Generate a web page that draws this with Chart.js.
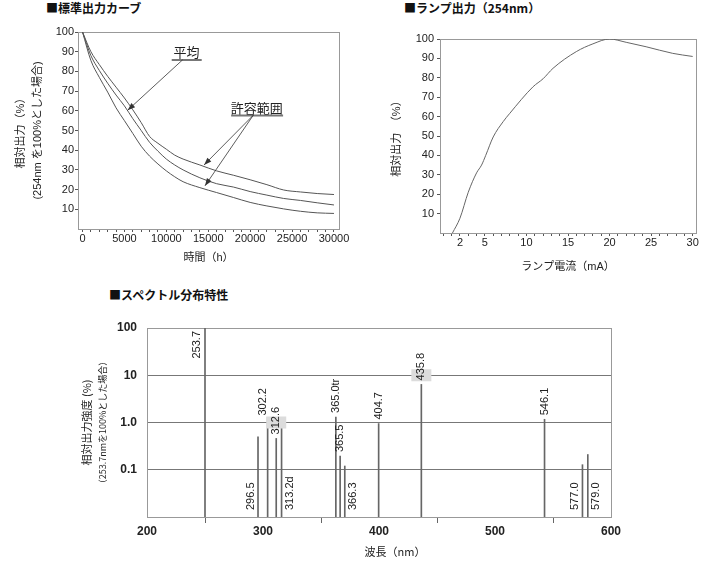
<!DOCTYPE html>
<html lang="ja">
<head>
<meta charset="utf-8">
<script src="https://cdn.jsdelivr.net/npm/chart.js@4.4.1/dist/chart.umd.min.js"></script>
<style>
  body { margin: 0; width: 709px; height: 565px; background: #fff; position: relative; overflow: hidden; }
  .box { position: absolute; }
  .ttl { position: absolute; font: bold 12px 'Noto Sans CJK JP', sans-serif; line-height: 16px; color: #111; white-space: nowrap; }
</style>
</head>
<body>
<div class="ttl" style="left:46px; top:0px;">■標準出力カーブ</div>
<div class="ttl" style="left:404px; top:0px;">■ランプ出力（254nm）</div>
<div class="ttl" style="left:109px; top:287px;">■スペクトル分布特性</div>

<div class="box" style="left:0; top:0; width:350px; height:275px;"><canvas id="c1"></canvas></div>
<div class="box" style="left:355px; top:0; width:354px; height:280px;"><canvas id="c2"></canvas></div>
<div class="box" style="left:60px; top:280px; width:649px; height:285px;"><canvas id="c3"></canvas></div>

<script>
// 標準出力カーブ
const hours = [0, 1000, 2000, 3000, 4000, 5000, 6000, 7000, 8000, 9000, 10000, 11000, 12000,
               14000, 16000, 18000, 20000, 22000, 24000, 26000, 28000, 30000];
const upperPct = [100, 90, 83.5, 77.5, 72, 66.5, 60.5, 54, 47, 43.5, 40.5, 37.5, 35.5,
                  32.5, 29.5, 27.3, 25, 22.5, 19.8, 18.8, 18, 17.5];
const meanPct = [100, 88, 80.5, 74, 68, 62.5, 56, 50, 44, 39.5, 35.5, 32.5, 30,
                 26, 23, 21.3, 19, 17.2, 15.5, 14.5, 13.3, 12.2];
const lowerPct = [100, 85.5, 77, 69.5, 61.5, 55, 48.5, 42, 37, 33, 29.5, 26.5, 24,
                  21, 18.5, 16, 13.5, 11.7, 10.2, 9, 8.2, 7.9];
const hourTicks = [];
for (let h = 0; h <= 30000; h += 1000) hourTicks.push(h);
const pctTicks = [10, 20, 30, 40, 50, 60, 70, 80, 90, 100];

// ランプ出力
const currentMA = [1.1, 2, 3, 4, 4.6, 5.1, 6, 7.2, 8, 10.8, 12, 13.2, 16, 18, 20, 22, 24.4, 27.6, 30];
const lampPct = [0, 7.6, 21, 31, 35, 40, 49.5, 57.4, 61.7, 75.4, 79.5, 84.9, 93.5, 97.5, 100, 98.3, 96, 92.6, 91];
const currentTicks = [];
for (let i = 0; i <= 30; i++) currentTicks.push(i);
const currentLabels = [2, 5, 10, 15, 20, 25, 30];

// スペクトル分布特性
const waveX = [250, 295.7, 304, 311.4, 316, 362.8, 366.5, 370.5, 399.7, 436.5, 542.7, 575.4, 580];
const intensity = [100, 0.5, 1.27, 0.46, 1.08, 1.31, 0.195, 0.12, 0.95, 6.4, 1.17, 0.128, 0.21];
const lineLabels = ['253.7', '296.5', '302.2', '312.6', '313.2d', '365.0tr', '365.5', '366.3',
                    '404.7', '435.8', '546.1', '577.0', '579.0'];
const waveTicks = [200, 300, 400, 500, 600];
const logTicks = [0.01, 0.1, 1, 10, 100];
const logLabels = ['', '0.1', '1.0', '10', '100'];

// where each wavelength tag sits relative to its line
const labelSide = ['topLeft', 'bottomLeft', 'aboveLeft', 'above', 'bottomRight', 'above', 'above',
                   'bottomRight', 'above', 'above', 'above', 'bottomLeft', 'bottomRight'];

Chart.defaults.font.family = "'Liberation Sans', 'Noto Sans CJK JP', sans-serif";
Chart.defaults.font.size = 11;
Chart.defaults.color = '#222';
Chart.defaults.animation = false;

function pts(xs, ys) {
    return xs.map((x, i) => ({ x: x, y: ys[i] }));
}

const frame = {
    id: 'frame',
    beforeDatasetsDraw(chart, args, opts) {
        const { ctx, chartArea: a } = chart;
        ctx.save();
        ctx.strokeStyle = opts.color || '#999';
        ctx.lineWidth = 1;
        ctx.strokeRect(Math.round(a.left) + 0.5, Math.round(a.top) + 0.5,
                       Math.round(a.width), Math.round(a.height));
        ctx.restore();
    }
};

function arrow(ctx, x1, y1, x2, y2) {
    const ang = Math.atan2(y2 - y1, x2 - x1);
    ctx.beginPath();
    ctx.moveTo(x1, y1);
    ctx.lineTo(x2, y2);
    ctx.stroke();
    ctx.beginPath();
    ctx.moveTo(x2, y2);
    ctx.lineTo(x2 - 8 * Math.cos(ang - 0.35), y2 - 8 * Math.sin(ang - 0.35));
    ctx.lineTo(x2 - 8 * Math.cos(ang + 0.35), y2 - 8 * Math.sin(ang + 0.35));
    ctx.closePath();
    ctx.fill();
}

// callouts for chart 1, in data units
const callouts = [
    { text: '平均', x: 12400, y: 86.3, from: 10640, to: 14220,
      arrows: [[11950, 85.9, 5390, 60.3]] },
    { text: '許容範囲', x: 20800, y: 58.1, from: 17730, to: 23930,
      arrows: [[20380, 57.8, 14500, 32.5], [20380, 57.8, 14610, 21.9]] }
];

const calloutPlugin = {
    id: 'callouts',
    afterDatasetsDraw(chart) {
        const { ctx, scales: { x, y } } = chart;
        ctx.save();
        callouts.forEach(c => {
            const ly = y.getPixelForValue(c.y);
            ctx.fillStyle = '#222';
            ctx.font = "13px 'Noto Sans CJK JP', sans-serif";
            ctx.textAlign = 'center';
            ctx.textBaseline = 'bottom';
            ctx.fillText(c.text, x.getPixelForValue(c.x), ly);
            ctx.strokeStyle = '#777';
            ctx.lineWidth = 2;
            ctx.beginPath();
            ctx.moveTo(x.getPixelForValue(c.from), ly + 1);
            ctx.lineTo(x.getPixelForValue(c.to), ly + 1);
            ctx.stroke();
            ctx.strokeStyle = '#333';
            ctx.fillStyle = '#333';
            ctx.lineWidth = 0.8;
            c.arrows.forEach(a => arrow(ctx, x.getPixelForValue(a[0]), y.getPixelForValue(a[1]),
                                        x.getPixelForValue(a[2]), y.getPixelForValue(a[3])));
        });
        ctx.restore();
    }
};

new Chart(document.getElementById('c1'), {
    type: 'line',
    data: {
        datasets: [
            { label: '許容範囲上限', data: pts(hours, upperPct) },
            { label: '平均', data: pts(hours, meanPct) },
            { label: '許容範囲下限', data: pts(hours, lowerPct) }
        ]
    },
    options: {
        responsive: true,
        maintainAspectRatio: false,
        layout: { padding: { top: 32, right: 11, left: 0, bottom: 0 } },
        plugins: { legend: { display: false }, tooltip: { enabled: false } },
        elements: {
            point: { radius: 0 },
            line: { borderWidth: 1, borderColor: '#555', cubicInterpolationMode: 'monotone' }
        },
        scales: {
            x: {
                type: 'linear', min: -540, max: 30600,
                afterFit: s => { s.height = 46; },
                afterBuildTicks: s => { s.ticks = hourTicks.map(v => ({ value: v })); },
                ticks: { autoSkip: false, maxRotation: 0, padding: 0,
                         callback: v => (v % 5000 === 0 ? String(v) : '') },
                grid: { drawOnChartArea: false, tickLength: 3, color: '#555' },
                border: { color: '#555' },
                title: { display: true, text: '時間（h）', padding: { top: 0, bottom: 10 },
                         font: { size: 11, lineHeight: 1.3 } }
            },
            y: {
                min: 0, max: 100,
                afterFit: s => { s.width = 78; },
                afterBuildTicks: s => { s.ticks = pctTicks.map(v => ({ value: v })); },
                ticks: { padding: 1 },
                grid: { drawOnChartArea: false, tickLength: 3, color: '#555' },
                border: { color: '#555' },
                title: { display: true, text: ['相対出力（%）', '(254nm を100%とした場合)'],
                         padding: { top: 12.5 }, font: { size: 11, lineHeight: 1.55 } }
            }
        }
    },
    plugins: [frame, calloutPlugin]
});

new Chart(document.getElementById('c2'), {
    type: 'line',
    data: { datasets: [{ label: 'ランプ出力', data: pts(currentMA, lampPct) }] },
    options: {
        responsive: true,
        maintainAspectRatio: false,
        layout: { padding: { top: 39, right: 13, left: 0, bottom: 0 } },
        plugins: { legend: { display: false }, tooltip: { enabled: false } },
        elements: {
            point: { radius: 0 },
            line: { borderWidth: 1, borderColor: '#666', cubicInterpolationMode: 'monotone' }
        },
        scales: {
            x: {
                type: 'linear', min: -0.4, max: 30.4,
                afterFit: s => { s.height = 47; },
                afterBuildTicks: s => { s.ticks = currentTicks.map(v => ({ value: v })); },
                ticks: { autoSkip: false, maxRotation: 0, padding: 0,
                         callback: v => (currentLabels.includes(v) ? String(v) : '') },
                grid: { drawOnChartArea: false, tickLength: 3, color: '#555' },
                border: { color: '#555' },
                title: { display: true, text: 'ランプ電流（mA）', padding: { top: 0, bottom: 6 },
                         font: { size: 11, lineHeight: 1.3 } }
            },
            y: {
                min: 0, max: 100,
                afterFit: s => { s.width = 85; },
                afterBuildTicks: s => { s.ticks = pctTicks.map(v => ({ value: v })); },
                ticks: { padding: 3 },
                grid: { drawOnChartArea: false, tickLength: 3, color: '#555' },
                border: { color: '#555' },
                title: { display: true, text: '相対出力　（%）', padding: { top: 33 },
                         font: { size: 11, lineHeight: 1.55 } }
            }
        }
    },
    plugins: [frame]
});

const specTags = {
    id: 'specTags',
    afterDatasetsDraw(chart) {
        const { ctx, chartArea: a, scales: { x, y } } = chart;
        const grids = [0.1, 1, 10].map(v => y.getPixelForValue(v));
        ctx.save();
        ctx.font = "11px 'Liberation Sans', sans-serif";
        ctx.textBaseline = 'middle';
        waveX.forEach((w, i) => {
            const px = x.getPixelForValue(w);
            const top = y.getPixelForValue(intensity[i]);
            const tw = ctx.measureText(lineLabels[i]).width;
            const side = labelSide[i];
            let ax = px, ay = top - 4, align = 'left';
            if (side === 'topLeft') { ax = px - 8; ay = a.top + 3; align = 'right'; }
            else if (side === 'bottomLeft') { ax = px - 7; ay = a.bottom - 7; }
            else if (side === 'bottomRight') { ax = px + 8; ay = a.bottom - 7; }
            else if (side === 'aboveLeft') { ax = px - 5; ay = top - 2; }
            if (side === 'above') {
                grids.forEach(g => {
                    if (g < ay && g > ay - tw) {
                        ctx.fillStyle = '#dcdcdc';
                        ctx.fillRect(ax - 10, g - 6, 20, 12);
                    }
                });
            }
            ctx.save();
            ctx.translate(ax, ay);
            ctx.rotate(-Math.PI / 2);
            ctx.textAlign = align;
            ctx.fillStyle = '#222';
            ctx.fillText(lineLabels[i], 0, 0);
            ctx.restore();
        });
        // axis titles
        ctx.fillStyle = '#222';
        ctx.textAlign = 'center';
        ctx.font = "11px 'Noto Sans CJK JP', sans-serif";
        ctx.fillText('波長（nm）', (a.left + a.right) / 2 + 16, a.bottom + 35);
        const cy = (a.top + a.bottom) / 2;
        ctx.translate(27, cy);
        ctx.rotate(-Math.PI / 2);
        ctx.fillText('相対出力強度 (%)', 0, 0);
        ctx.font = "9px 'Noto Sans CJK JP', sans-serif";
        ctx.fillText('（253.7nmを100%とした場合）', 0, 16);
        ctx.restore();
    }
};

new Chart(document.getElementById('c3'), {
    type: 'bar',
    data: {
        datasets: [{
            label: '相対出力強度',
            data: waveX.map((w, i) => ({ x: w, y: [0.01, intensity[i]] })),
            backgroundColor: '#666',
            borderWidth: 0,
            barThickness: 1
        }]
    },
    options: {
        responsive: true,
        maintainAspectRatio: false,
        layout: { padding: { top: 48, right: 98, left: 0, bottom: 0 } },
        plugins: { legend: { display: false }, tooltip: { enabled: false } },
        scales: {
            x: {
                type: 'linear', min: 200, max: 600, offset: false,
                afterFit: s => { s.height = 48; },
                afterBuildTicks: s => { s.ticks = waveTicks.map(v => ({ value: v })); },
                ticks: { autoSkip: false, maxRotation: 0, padding: 1.5,
                         font: { size: 12, weight: 'bold' } },
                grid: { drawOnChartArea: false, tickLength: 6, color: '#666' },
                border: { color: '#666' }
            },
            y: {
                type: 'logarithmic', min: 0.01, max: 100,
                afterFit: s => { s.width = 87; },
                afterBuildTicks: s => { s.ticks = logTicks.map(v => ({ value: v })); },
                ticks: { padding: 10, font: { size: 12, weight: 'bold' },
                         callback: (v, i) => logLabels[i] },
                grid: { drawTicks: false, color: '#777' },
                border: { color: '#666' }
            }
        }
    },
    plugins: [frame, specTags]
});
</script>
</body>
</html>
